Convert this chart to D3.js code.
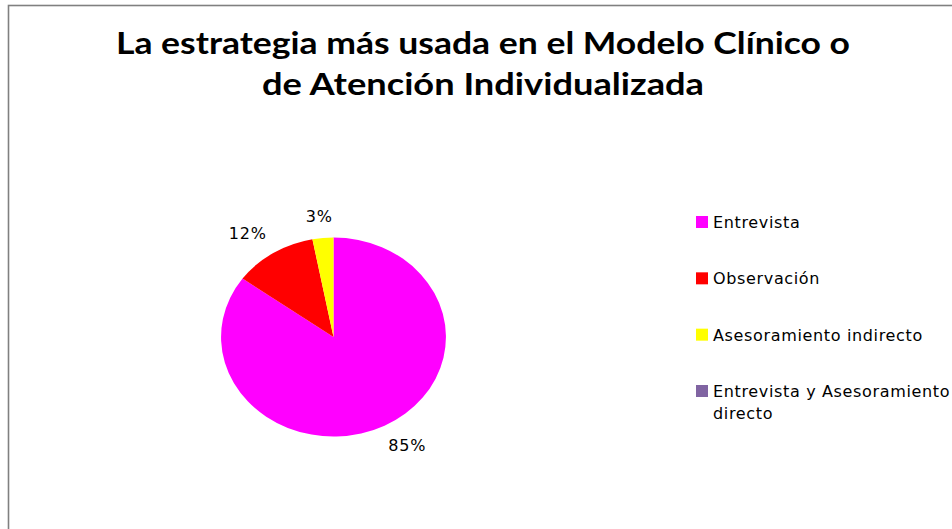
<!DOCTYPE html>
<html><head><meta charset="utf-8">
<script src="https://cdn.jsdelivr.net/npm/d3@7"></script>
<style>html,body{margin:0;padding:0;background:#fff;}svg{display:block;}</style>
</head><body>
<svg id="chart" width="952" height="529"></svg>
<script>
const titleLines = ["La estrategia más usada en el Modelo Clínico o", "de Atención Individualizada"];
const categories = ["Entrevista", "Observación", "Asesoramiento indirecto", "Entrevista y Asesoramiento directo"];
const values = [85, 12, 3, 0];
const colors = ["#FF00FF", "#FF0000", "#FFFF00", "#8064A2"];

const svg = d3.select("#chart");
const W = 952, H = 529;

// chart border (extends beyond right/bottom edge)
svg.append("rect").attr("x", 8.5).attr("y", 5.5).attr("width", W + 20).attr("height", H + 20)
  .attr("fill", "#fff").attr("stroke", "#808080").attr("stroke-width", 1.6);

// title
const titleWidths = [734, 442];
titleLines.forEach((t, i) => {
  svg.append("text").attr("x", 483).attr("y", 53.5 + i * 41)
    .attr("text-anchor", "middle")
    .attr("font-family", "Lato, 'Open Sans', sans-serif").attr("font-weight", "bold")
    .attr("font-size", 30).attr("fill", "#000")
    .attr("textLength", titleWidths[i]).attr("lengthAdjust", "spacingAndGlyphs")
    .text(t);
});

// pie
const cx = 333.5, cy = 337, ry = 99.5, sx = 1.13;
const pie = d3.pie().sort(null).value(d => d)(values);
const arc = d3.arc().innerRadius(0).outerRadius(ry);
const g = svg.append("g").attr("transform", `translate(${cx},${cy})`);
g.append("g").attr("transform", `scale(${sx},1)`)
  .selectAll("path").data(pie.filter(d => d.value > 0)).join("path")
  .attr("d", arc).attr("fill", (d) => colors[d.index]);

// labels
const lblFont = "'DejaVu Sans', sans-serif";
pie.filter(d => d.value > 0).forEach(d => {
  const a = (d.startAngle + d.endAngle) / 2;
  const dx = Math.sin(a), dy = -Math.cos(a);
  const ex = dx * ry * sx, ey = dy * ry;
  const t = g.append("text").attr("font-family", lblFont).attr("font-size", 16)
    .attr("letter-spacing", 0.8).attr("fill", "#000").attr("dominant-baseline", "central")
    .attr("text-anchor", "middle").text(d.value + "%");
  const w = t.node().getComputedTextLength(), h = 19;
  const gap = 12;
  const kx = Math.max(-1, Math.min(1, dx * 2));
  const ky = Math.max(-1, Math.min(1, dy * 2));
  t.attr("x", ex + dx * gap + kx * w / 2).attr("y", ey + dy * gap + ky * h / 2);
});

// legend
const leg = svg.append("g").attr("transform", "translate(696,0)");
const legScale = d3.scalePoint().domain(categories).range([222, 391]);
categories.forEach((c, i) => {
  const y = legScale(c);
  leg.append("rect").attr("x", 0).attr("y", y - 6).attr("width", 12).attr("height", 12)
    .attr("fill", colors[i]);
  const txt = leg.append("text").attr("x", 17).attr("y", y + 6)
    .attr("font-family", lblFont).attr("font-size", 16).attr("letter-spacing", 0.65)
    .attr("fill", "#000");
  if (c === "Entrevista y Asesoramiento directo") {
    txt.append("tspan").attr("x", 17).text("Entrevista y Asesoramiento");
    txt.append("tspan").attr("x", 17).attr("dy", 22).text("directo");
  } else {
    txt.text(c);
  }
});
</script>
</body></html>
